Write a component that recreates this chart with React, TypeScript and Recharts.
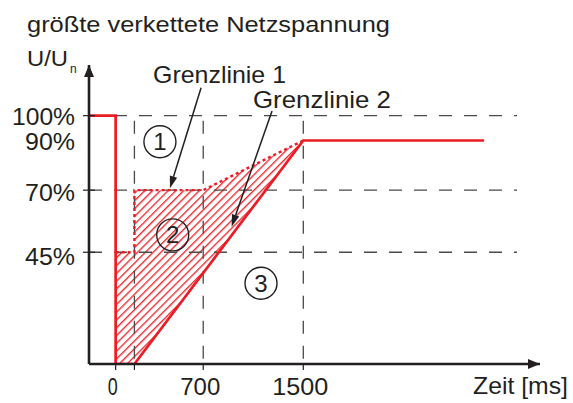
import React from 'react';
import {
  ComposedChart,
  Line,
  Area,
  XAxis,
  YAxis,
  ReferenceLine,
  ReferenceDot,
} from 'recharts';

// ---- data ----
const timeMs = [-213, 0, 0, 150, 150, 700, 1500, 2945];
const actualVoltage = [100, 100, 0, 0, null, null, 90, 90];
const grenzlinie1 = [null, null, 45, 45, 70, 70, 90, null];
const hatchLow = [null, null, 0, 0, 0, 36.7, 90, null];
const hatchHigh = [null, null, 45, 45, 70, 70, 90, null];

const xTicks = [0, 150, 700, 1500];
const xTickLabels: Record<number, string> = { 0: '0', 700: '700', 1500: '1500' };
const yTicks = [45, 70, 90, 100];
const yTickLabels: Record<number, string> = { 45: '45%', 70: '70%', 90: '90%', 100: '100%' };
const gridY = [100, 70, 45];
const gridX = [0, 150, 700, 1500];
const regionMarks = [
  { t: 354, v: 89.5, label: '1' },
  { t: 456, v: 52, label: '2' },
  { t: 1162, v: 32.5, label: '3' },
];
const arrowG1 = [{ x: 683, y: 111.2 }, { x: 434, y: 70.8 }];
const arrowG2 = [{ x: 1250, y: 101.9 }, { x: 927, y: 55.3 }];

const X_DOMAIN: [number, number] = [-213, 3392];
const Y_DOMAIN: [number, number] = [0, 120.4];
const GRID_X_END = 3208;
const GRID_Y_TOP = 98;

const tableData = timeMs.map((t, i) => ({
  t,
  actual: actualVoltage[i],
  g1: grenzlinie1[i],
  hatch: hatchLow[i] === null ? null : [hatchLow[i], hatchHigh[i]],
}));

// ---- styles ----
const RED = '#ec1c24';
const INK = '#231f20';
const GRID = '#4a4a4a';
const FONT = '"Liberation Sans", Arial, sans-serif';
const W = 573;
const H = 403;
const AXIS_X = 89;
const AXIS_Y = 364;

const XTick = (props: any) => {
  const { x, payload } = props;
  const v = payload.value as number;
  const label = xTickLabels[v];
  const widths: Record<number, number> = { 0: 10, 700: 40, 1500: 56 };
  return (
    <g>
      <line x1={x} x2={x} y1={AXIS_Y} y2={AXIS_Y + 6} stroke={INK} strokeWidth={1.2} />
      {label && (
        <text
          x={x - 3}
          y={395}
          textAnchor="middle"
          fontSize={24}
          fontFamily={FONT}
          fill={INK}
          textLength={widths[v]}
          lengthAdjust="spacingAndGlyphs"
        >
          {label}
        </text>
      )}
    </g>
  );
};

const YTick = (props: any) => {
  const { y, payload } = props;
  const v = payload.value as number;
  const widths: Record<number, number> = { 100: 63, 90: 50, 70: 50, 45: 50 };
  const off: Record<number, number> = { 100: 9.8, 90: 9.3, 70: 10.8, 45: 12.5 };
  return (
    <g>
      {v !== 90 && (
        <line x1={AXIS_X - 6} x2={AXIS_X + 6} y1={y} y2={y} stroke={INK} strokeWidth={1.2} />
      )}
      <text
        x={75}
        y={y + off[v]}
        textAnchor="end"
        fontSize={23}
        fontFamily={FONT}
        fill={INK}
        textLength={widths[v]}
        lengthAdjust="spacingAndGlyphs"
      >
        {yTickLabels[v]}
      </text>
    </g>
  );
};

const ArrowShape = (p: any) => {
  const { x1, y1, x2, y2 } = p;
  const ang = Math.atan2(y2 - y1, x2 - x1);
  const L = 12;
  const Wd = 3.8;
  const bx = x2 - L * Math.cos(ang);
  const by = y2 - L * Math.sin(ang);
  const nx = -Math.sin(ang);
  const ny = Math.cos(ang);
  return (
    <g>
      <line x1={x1} y1={y1} x2={bx} y2={by} stroke={INK} strokeWidth={1.5} />
      <polygon
        points={`${x2},${y2} ${bx + nx * Wd},${by + ny * Wd} ${bx - nx * Wd},${by - ny * Wd}`}
        fill={INK}
      />
    </g>
  );
};

const RightArrow = (p: any) => {
  const { cx, cy } = p;
  return <polygon points={`${cx},${cy} ${cx - 12},${cy - 5} ${cx - 12},${cy + 5}`} fill={INK} />;
};
const UpArrow = (p: any) => {
  const { cx, cy } = p;
  return <polygon points={`${cx},${cy} ${cx - 5},${cy + 12} ${cx + 5},${cy + 12}`} fill={INK} />;
};

export default function App() {
  return (
    <div style={{ position: 'absolute', left: 0, top: 0, width: W, height: H, background: '#fff' }}>
      <ComposedChart
        width={W}
        height={H}
        data={tableData}
        margin={{ top: 65, right: 33, bottom: 0, left: 0 }}
      >
        <defs>
          <pattern
            id="hatch"
            patternUnits="userSpaceOnUse"
            width="5.5"
            height="5.5"
            patternTransform="rotate(45)"
          >
            <line x1="0.7" y1="0" x2="0.7" y2="5.5" stroke={RED} strokeWidth="1.3" />
          </pattern>
        </defs>
        <XAxis
          type="number"
          dataKey="t"
          domain={X_DOMAIN}
          allowDataOverflow
          ticks={xTicks}
          interval={0}
          height={39}
          axisLine={{ stroke: INK, strokeWidth: 2.6 }}
          tickLine={false}
          tick={<XTick />}
        />
        <YAxis
          type="number"
          domain={Y_DOMAIN}
          allowDataOverflow
          ticks={yTicks}
          interval={0}
          width={89}
          axisLine={{ stroke: INK, strokeWidth: 2.6 }}
          tickLine={false}
          tick={<YTick />}
        />
        <Area
          type="linear"
          dataKey="hatch"
          fill="url(#hatch)"
          fillOpacity={1}
          stroke="none"
          connectNulls
          isAnimationActive={false}
          dot={false}
          activeDot={false}
        />
        {gridY.map((v) => (
          <ReferenceLine
            key={'gy' + v}
            segment={[{ x: X_DOMAIN[0], y: v }, { x: GRID_X_END, y: v }]}
            stroke={GRID}
            strokeWidth={1.3}
            strokeDasharray="13 12"
          />
        ))}
        {gridX.map((t) => (
          <ReferenceLine
            key={'gx' + t}
            segment={[{ x: t, y: GRID_Y_TOP }, { x: t, y: 0 }]}
            stroke={GRID}
            strokeWidth={1.3}
            strokeDasharray="13 12"
          />
        ))}
        <Line
          type="linear"
          dataKey="g1"
          stroke={RED}
          strokeWidth={2.4}
          strokeDasharray="3 3"
          dot={false}
          activeDot={false}
          connectNulls
          isAnimationActive={false}
        />
        <Line
          type="linear"
          dataKey="actual"
          stroke={RED}
          strokeWidth={2.7}
          dot={false}
          activeDot={false}
          connectNulls
          isAnimationActive={false}
        />
        <ReferenceLine segment={arrowG1} shape={ArrowShape} />
        <ReferenceLine segment={arrowG2} shape={ArrowShape} />
        {regionMarks.map((m) => (
          <ReferenceDot
            key={m.label}
            x={m.t}
            y={m.v}
            r={16}
            fill="none"
            stroke={INK}
            strokeWidth={1.4}
            label={{ value: m.label, position: 'center', fontSize: 24, fill: INK, fontFamily: FONT }}
          />
        ))}
        <ReferenceDot x={X_DOMAIN[1]} y={0} r={1} shape={RightArrow} />
        <ReferenceDot x={X_DOMAIN[0]} y={Y_DOMAIN[1]} r={1} shape={UpArrow} />
      </ComposedChart>
      <svg
        width={W}
        height={H}
        style={{ position: 'absolute', left: 0, top: 0, pointerEvents: 'none' }}
      >
        <g fontFamily={FONT} fill={INK}>
          <text x={27} y={32} fontSize={22} textLength={363} lengthAdjust="spacingAndGlyphs">
            größte verkettete Netzspannung
          </text>
          <text x={27} y={66} fontSize={22} textLength={41} lengthAdjust="spacingAndGlyphs">
            U/U
          </text>
          <text x={70} y={73} fontSize={12}>
            n
          </text>
          <text x={153} y={83} fontSize={24} textLength={133} lengthAdjust="spacingAndGlyphs">
            Grenzlinie 1
          </text>
          <text x={253} y={108} fontSize={24} textLength={138} lengthAdjust="spacingAndGlyphs">
            Grenzlinie 2
          </text>
          <text x={473} y={394} fontSize={24} textLength={95} lengthAdjust="spacingAndGlyphs">
            Zeit [ms]
          </text>
        </g>
      </svg>
    </div>
  );
}
